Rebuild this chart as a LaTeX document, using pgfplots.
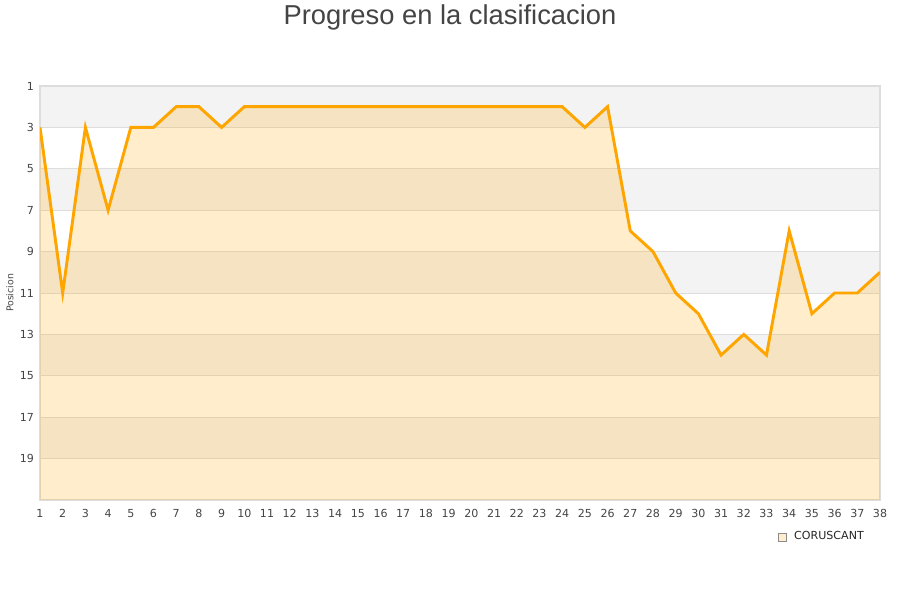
\documentclass[border=0pt]{standalone}
\usepackage{pgfplots}
\pgfplotsset{compat=1.18}
\usepackage{pgfplotstable}
\usepgfplotslibrary{fillbetween}
\usepackage{fontspec}
\setmainfont{DejaVu Sans}
\newfontfamily\titlefont{Liberation Sans}
\definecolor{lineor}{HTML}{FFA500}
\definecolor{bandgray}{HTML}{F3F3F3}
\definecolor{gridc}{HTML}{DDDDDD}
\definecolor{txt}{HTML}{444444}
\pgfplotstableread{
x y
1 3
2 11
3 3
4 7
5 3
6 3
7 2
8 2
9 3
10 2
11 2
12 2
13 2
14 2
15 2
16 2
17 2
18 2
19 2
20 2
21 2
22 2
23 2
24 2
25 3
26 2
27 8
28 9
29 11
30 12
31 14
32 13
33 14
34 8
35 12
36 11
37 11
38 10
}\datatable
\begin{document}
\begin{tikzpicture}
\node[font=\titlefont\fontsize{20.5}{23}\selectfont, text=txt] at (337.5pt,437pt) {Progreso en la clasificacion};
\begin{axis}[
  set layers,
  at={(30pt,75pt)}, anchor=south west,
  scale only axis, width=630pt, height=310.5pt,
  xmin=1, xmax=38, ymin=1, ymax=21,
  y dir=reverse,
  xtick={1,...,38}, ytick={1,3,...,19},
  tick style={draw=none},
  ymajorgrids, grid style={gridc, line width=0.6pt},
  axis line style={gridc, line width=0.8pt},
  tick label style={font=\fontsize{8.3}{9}\selectfont, text=txt},
  /pgf/number format/assume math mode=true,
  xticklabel style={yshift=-3.5pt},
  yticklabel style={xshift=-1pt},
  ylabel={Posicion}, ylabel style={font=\fontsize{7}{8}\selectfont, text=txt, at={(rel axis cs:-0.0357,0.5)}, anchor=center},
  legend style={at={(rel axis cs:0.989,-0.089)}, anchor=east, draw=none, fill=none, font=\fontsize{8.3}{9}\selectfont, text=black!85, column sep=4pt},
  legend cell align=left,
  legend image code/.code={\draw[#1] (0pt,-3pt) rectangle (6pt,3pt);},
]
\begin{pgfonlayer}{axis background}
\fill[bandgray] (axis cs:1,1) rectangle (axis cs:38,3);
\fill[bandgray] (axis cs:1,5) rectangle (axis cs:38,7);
\fill[bandgray] (axis cs:1,9) rectangle (axis cs:38,11);
\fill[bandgray] (axis cs:1,13) rectangle (axis cs:38,15);
\fill[bandgray] (axis cs:1,17) rectangle (axis cs:38,19);
\end{pgfonlayer}
\addplot[name path=A, draw=none, forget plot] table[x=x,y=y] {\datatable};
\path[name path=B] (axis cs:1,21) -- (axis cs:38,21);
\addplot[fill=lineor, fill opacity=0.2, draw=none, forget plot] fill between[of=A and B];
\addplot[lineor, line width=2.2pt, line join=miter, forget plot] table[x=x,y=y] {\datatable};
\addlegendimage{fill=lineor!20, draw=gray!90, line width=0.5pt}
\addlegendentry{CORUSCANT}
\end{axis}
\pgfresetboundingbox
\useasboundingbox (0,0) rectangle (675pt,450pt);
\end{tikzpicture}
\end{document}
